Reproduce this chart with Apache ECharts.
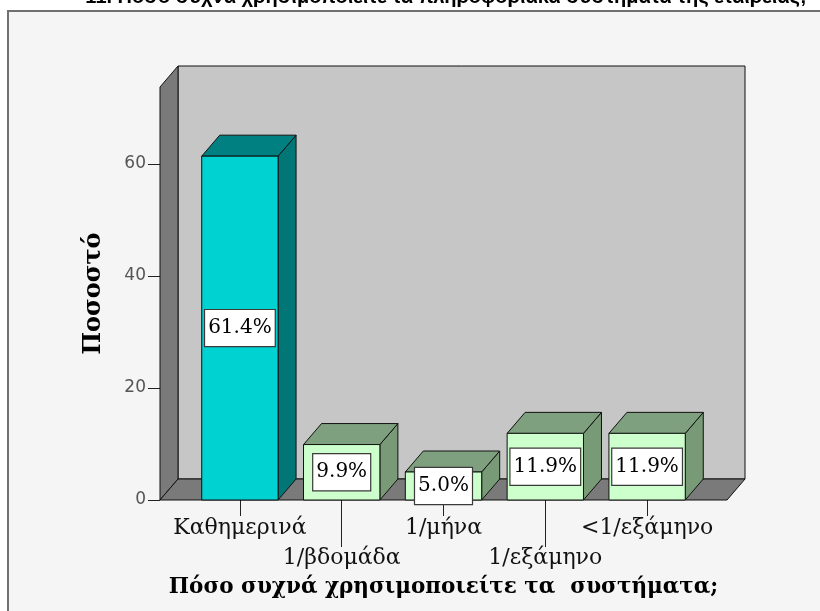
<!DOCTYPE html>
<html>
<head>
<meta charset="utf-8">
<script src="https://cdn.jsdelivr.net/npm/echarts@6/dist/echarts.min.js"></script>
<style>
  html, body { margin: 0; padding: 0; background: #ffffff; }
  #chart { width: 820px; height: 611px; }
</style>
</head>
<body>
<div id="chart"></div>
<script>
// ---- data ----
const chartTitle = '11. Πόσο συχνά χρησιμοποιείτε τα πληροφοριακά συστήματα της εταιρείας;';
const categories = ['Καθημερινά', '1/βδομάδα', '1/μήνα', '1/εξάμηνο', '<1/εξάμηνο'];
const percents = [61.4, 9.9, 5.0, 11.9, 11.9];
const yTickValues = [0, 20, 40, 60];
const yAxisMax = 73.75;
const xAxisTitle = 'Πόσο συχνά χρησιμοποιείτε τα  συστήματα;';
const yAxisTitle = 'Ποσοστό';

// ---- look ----
const DEPTH_X = 18;     // oblique depth offset, px
const DEPTH_Y = -21;
const WALL_PAD = 29;    // floor and walls reach past the outer bars
const SERIF = '"DejaVu Serif", serif';
const barColors = [
  { front: '#00d2d2', top: '#008080', side: '#007676' },
  { front: '#ccffcc', top: '#7fa07f', side: '#789a76' },
  { front: '#ccffcc', top: '#7fa07f', side: '#789a76' },
  { front: '#ccffcc', top: '#7fa07f', side: '#789a76' },
  { front: '#ccffcc', top: '#7fa07f', side: '#789a76' }
];
const edge = { stroke: '#111', lineWidth: 1 };

// back wall, left wall and floor of the 3D box
function renderRoom(params, api) {
  const base = api.coord([0, 0]);
  const topPt = api.coord([0, yAxisMax]);
  const cs = params.coordSys;
  const x0 = cs.x - WALL_PAD, x1 = cs.x + cs.width + WALL_PAD;
  const yB = base[1], yT = topPt[1];
  const dx = DEPTH_X, dy = DEPTH_Y;
  return {
    type: 'group',
    children: [
      { type: 'polygon', shape: { points: [[x0 + dx, yT + dy], [x1 + dx, yT + dy], [x1 + dx, yB + dy], [x0 + dx, yB + dy]] },
        style: Object.assign({ fill: '#c6c6c6' }, edge) },
      { type: 'polygon', shape: { points: [[x0, yT], [x0 + dx, yT + dy], [x0 + dx, yB + dy], [x0, yB]] },
        style: Object.assign({ fill: '#7a7a7a' }, edge) },
      { type: 'polygon', shape: { points: [[x0, yB], [x0 + dx, yB + dy], [x1 + dx, yB + dy], [x1, yB]] },
        style: Object.assign({ fill: '#7a7a7a' }, edge) }
    ]
  };
}

// one 3D bar: front face, top, right side and a boxed value label
function renderBar(params, api) {
  const idx = api.value(0);
  const v = api.value(1);
  const top = api.coord([idx, v]);
  const base = api.coord([idx, 0]);
  const w = api.size([1, 0])[0] * 0.75;
  const xl = top[0] - w / 2, xr = top[0] + w / 2;
  const yT = top[1], yB = base[1];
  const dx = DEPTH_X, dy = DEPTH_Y;
  const c = barColors[idx];
  return {
    type: 'group',
    children: [
      { type: 'polygon', shape: { points: [[xr, yT], [xr + dx, yT + dy], [xr + dx, yB + dy], [xr, yB]] },
        style: Object.assign({ fill: c.side }, edge) },
      { type: 'polygon', shape: { points: [[xl, yT], [xl + dx, yT + dy], [xr + dx, yT + dy], [xr, yT]] },
        style: Object.assign({ fill: c.top }, edge) },
      { type: 'rect', shape: { x: xl, y: yT, width: w, height: yB - yT },
        style: Object.assign({ fill: c.front }, edge) },
      { type: 'text', z2: 10,
        style: {
          text: v.toFixed(1) + '%', x: top[0], y: (yT + yB) / 2,
          align: 'center', verticalAlign: 'middle',
          font: '20px ' + SERIF, fill: '#000',
          backgroundColor: '#ffffff', borderColor: '#3a3a3a', borderWidth: 1.2,
          padding: [8, 3, 8, 3]
        } }
    ]
  };
}

const labelStyle = { fontFamily: SERIF, fontSize: 22, color: '#111' };
const chart = echarts.init(document.getElementById('chart'), null, { renderer: 'canvas' });
chart.setOption({
  animation: false,
  backgroundColor: 'transparent',
  graphic: [
    { type: 'rect', z: -10, silent: true,
      shape: { x: 8, y: 11, width: 840, height: 640 },
      style: { fill: '#f5f5f5', stroke: '#707070', lineWidth: 2 } },
    { type: 'text', z: 10, silent: true,
      style: { text: chartTitle, x: 446, y: -3, align: 'center', verticalAlign: 'middle',
        font: 'bold 20px "Liberation Sans", Arial, sans-serif', fill: '#000' } }
  ],
  grid: { left: 189, top: 87, width: 509, height: 413, containLabel: false, outerBoundsMode: 'none' },
  xAxis: [
    {
      type: 'category', data: categories, boundaryGap: true,
      axisLine: { show: false },
      axisTick: { show: true, alignWithLabel: true, length: 16, interval: (i) => i % 2 === 0,
        lineStyle: { color: '#222', width: 1 } },
      axisLabel: Object.assign({ interval: (i) => i % 2 === 0, margin: 17 }, labelStyle),
      name: xAxisTitle, nameLocation: 'middle', nameGap: 76, nameMoveOverlap: false,
      nameTextStyle: { fontFamily: SERIF, fontWeight: 'bold', fontSize: 21.5, color: '#000' }
    },
    {
      type: 'category', data: categories, boundaryGap: true, position: 'bottom',
      axisLine: { show: false },
      axisTick: { show: true, alignWithLabel: true, length: 47, interval: (i) => i % 2 === 1,
        lineStyle: { color: '#222', width: 1 } },
      axisLabel: Object.assign({ interval: (i) => i % 2 === 1, margin: 47 }, labelStyle)
    }
  ],
  yAxis: {
    type: 'value', min: 0, max: yAxisMax, offset: 29,
    axisLine: { show: false },
    axisTick: { show: true, length: 12, customValues: yTickValues, lineStyle: { color: '#222' } },
    axisLabel: { customValues: yTickValues, margin: 14, color: '#555',
      fontFamily: '"DejaVu Sans", sans-serif', fontSize: 17 },
    splitLine: { show: false },
    name: yAxisTitle, nameLocation: 'middle', nameGap: 54, nameRotate: 90, nameMoveOverlap: false,
    nameTextStyle: { fontFamily: SERIF, fontWeight: 'bold', fontSize: 24, color: '#000' }
  },
  series: [
    { type: 'custom', name: 'room', z: 1, silent: true, renderItem: renderRoom,
      data: [[0, 0]], encode: { x: 0, y: 1 } },
    { type: 'custom', name: 'Ποσοστό', z: 2, renderItem: renderBar,
      data: percents.map((p, i) => [i, p]), encode: { x: 0, y: 1 } }
  ]
});
</script>
</body>
</html>
